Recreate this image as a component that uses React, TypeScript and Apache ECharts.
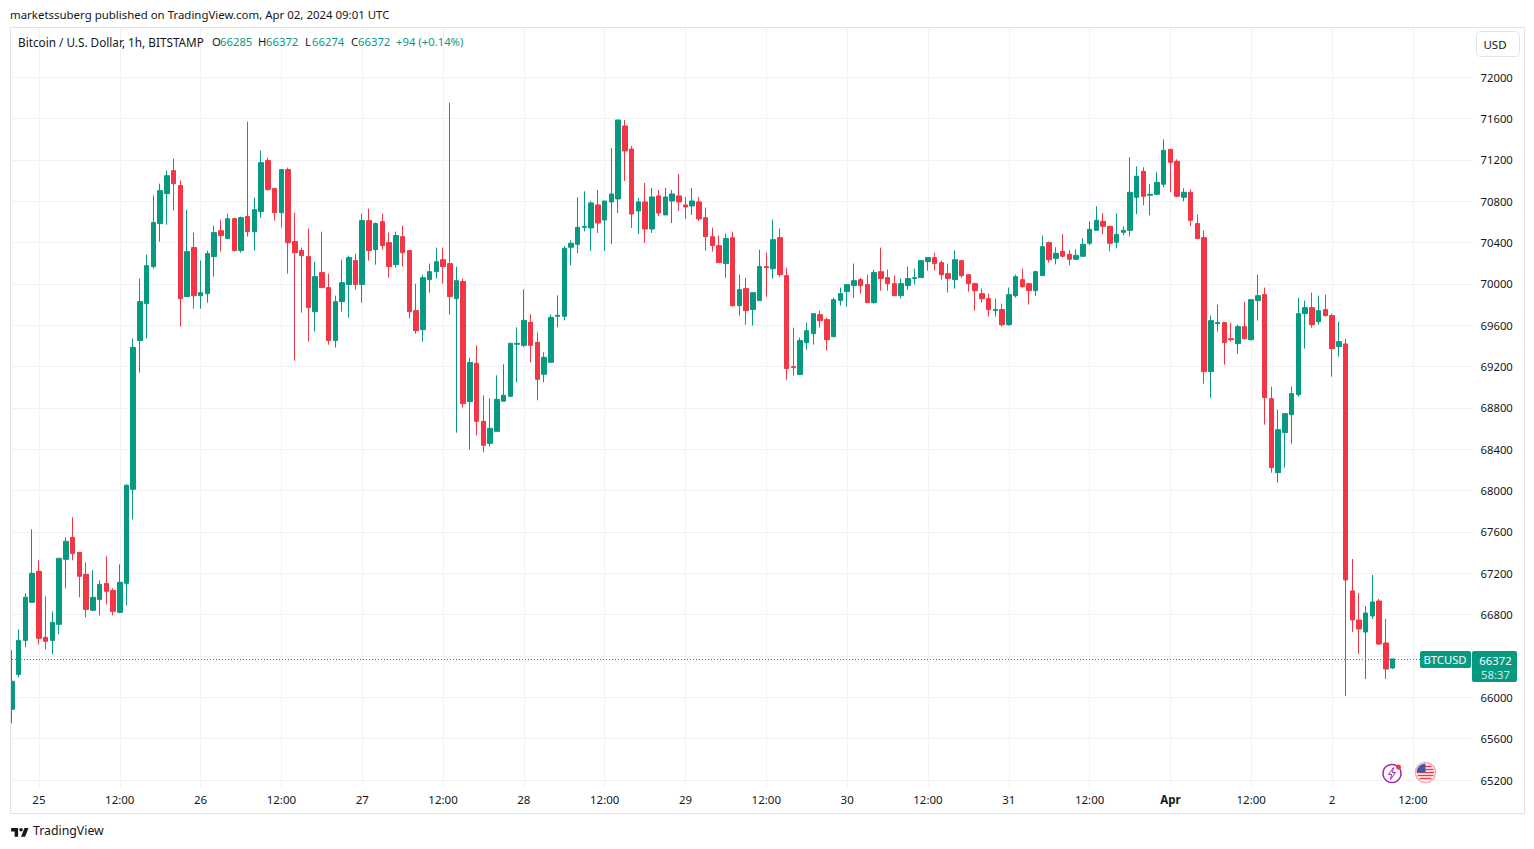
import React, { useEffect, useRef } from "react";
import * as echarts from "echarts";

const opens = [
  65884,66222,66551,66919,67219,66580,66551,66706,67335,67548,
  67403,67190,66842,66948,67103,67035,66822,67103,68013,69452,
  69810,70168,70584,70874,71097,70952,69877,70352,69887,69906,
  70265,70516,70439,70632,70323,70652,70506,70700,71194,70923,
  70690,71107,70410,70323,70265,69732,70110,69965,69452,69829,
  69994,70226,69994,70613,70332,70603,70400,70187,70458,70323,
  69742,69558,70042,70119,70235,70197,69858,70023,68861,69232,
  68671,68458,68574,68865,68913,69416,69406,69629,69435,69126,
  69242,69687,69687,70355,70384,70548,70542,70765,70619,70794,
  70823,71529,71306,70706,70794,70532,70852,70668,70803,70852,
  70765,70755,70794,70642,70458,70371,70197,70448,69790,69955,
  69752,69839,70168,70148,70448,70081,69200,69123,69432,69519,
  69703,69655,69490,69839,69926,69984,70042,69994,69819,70119,
  70061,70003,69887,69984,70052,70061,70216,70255,70206,70100,
  70042,70226,70090,70003,69906,69858,69742,69752,69606,69887,
  70042,70003,69935,70081,70400,70248,70316,70287,70239,70268,
  70394,70519,70606,70558,70403,70500,70519,70839,71090,70858,
  70868,70965,71303,71187,70839,70887,70584,70448,69152,69616,
  69626,69471,69423,69587,69461,69839,69897,68890,68174,68561,
  68735,68929,69713,69771,69635,69752,69694,69394,69420,67029,
  66748,66632,66787,66932,66526,66285,
];
const closes = [
  66155,66551,66968,67200,66571,66542,66726,67345,67510,67393,
  67171,66851,66968,67093,67026,66832,67113,68052,69387,69829,
  70177,70594,70903,71048,70971,69858,70313,69887,69916,70294,
  70497,70468,70632,70323,70642,70506,70719,71174,70913,70690,
  71107,70400,70303,70274,69771,70071,69965,69452,69829,70013,
  70255,69994,70613,70323,70584,70371,70168,70468,70303,69732,
  69548,70061,70119,70216,70168,69877,70032,68842,69239,68671,
  68439,68603,68884,68923,69426,69426,69648,69406,69077,69290,
  69677,69697,70345,70394,70548,70558,70784,70590,70803,70871,
  71587,71287,70677,70794,70532,70842,70687,70842,70871,70794,
  70745,70803,70629,70458,70371,70206,70439,69790,69945,69742,
  69916,70168,70158,70429,70090,69181,69190,69452,69548,69713,
  69645,69461,69848,69906,69994,70032,69984,69819,70110,70052,
  70003,69887,70003,70052,70061,70226,70255,70197,70090,70052,
  70235,70081,70003,69935,69858,69752,69752,69606,69897,70071,
  69974,69935,70119,70361,70235,70297,70268,70239,70277,70384,
  70529,70616,70558,70394,70481,70519,70887,71042,70848,70868,
  70984,71294,71177,70848,70887,70616,70439,69152,69645,69626,
  69432,69461,69587,69471,69848,69887,68900,68222,68590,68745,
  68939,69713,69771,69606,69742,69694,69374,69442,67136,66748,
  66661,66816,66923,66516,66274,66372,
];
const highs = [
  66455,66658,67006,67626,67326,66977,66832,67345,67548,67742,
  67403,67306,67229,67132,67364,67055,67287,68062,69471,70052,
  70284,70855,70971,71097,71213,71000,70719,70497,70226,70323,
  70565,70623,70681,70642,70652,71571,70836,71290,71223,70932,
  71107,71126,70690,70352,70536,70216,70506,70100,69887,70235,
  70274,70294,70681,70729,70594,70681,70497,70506,70565,70323,
  70003,70090,70197,70352,70352,71755,70168,70052,69287,69406,
  68923,68894,69116,69223,69426,69581,69948,69706,69532,69339,
  69706,69890,70365,70423,70839,70897,70803,70910,70803,71316,
  71587,71587,71336,70832,70977,70929,70910,70929,70910,71065,
  70842,70929,70842,70739,70545,70468,70487,70506,70090,70061,
  69916,70332,70303,70623,70536,70158,69577,69481,69626,69713,
  69742,69674,69868,69965,69994,70197,70061,70090,70139,70352,
  70139,70081,70052,70168,70148,70226,70255,70303,70226,70197,
  70323,70226,70090,70013,69955,69906,69858,69810,69965,70090,
  70148,70013,70129,70468,70410,70355,70481,70326,70335,70442,
  70606,70752,70684,70558,70684,70558,71226,71139,71129,70965,
  71081,71400,71303,71206,70926,70916,70671,70516,69694,69800,
  69626,69626,69606,69829,69848,70090,69965,69006,68784,68745,
  69006,69868,69839,69916,69887,69897,69713,69635,69468,67339,
  67010,66884,67184,66952,66758,66372,
];
const lows = [
  65748,66193,66484,66919,66513,66464,66416,66610,67055,67326,
  66968,66774,66842,66793,66900,66793,66813,66890,67723,69142,
  69471,70148,70410,70574,70710,69587,69877,69761,69761,69819,
  70071,70313,70439,70313,70303,70458,70323,70642,70903,70613,
  70545,70100,69258,69723,69442,69539,69965,69413,69384,69732,
  69674,69945,69819,70226,70187,70332,70061,70158,70168,69665,
  69519,69442,69916,70052,70003,69703,68561,68803,68397,68535,
  68371,68429,68574,68865,68903,69048,69387,69242,68874,69048,
  69242,69581,69648,70181,70297,70510,70319,70494,70319,70387,
  70687,70997,70542,70484,70397,70494,70658,70668,70590,70706,
  70629,70668,70610,70323,70313,70206,70061,69781,69694,69606,
  69597,69839,69877,70052,70071,69074,69113,69123,69364,69413,
  69577,69355,69490,69790,69781,69868,69906,69819,69810,69935,
  69935,69887,69858,69945,69994,70061,70129,70129,70042,69916,
  69955,70061,69926,69742,69819,69684,69684,69587,69597,69868,
  69965,69800,69887,70081,70206,70190,70258,70181,70229,70268,
  70374,70519,70481,70316,70345,70471,70461,70674,70761,70665,
  70868,70936,70887,70839,70800,70558,70439,69035,68900,69539,
  69219,69442,69326,69461,69452,69645,68639,68174,68077,68222,
  68455,68910,69374,69577,69606,69684,69103,69297,66013,66632,
  66419,66177,66758,66506,66177,66274,
];

const dayLabels = ["25", "26", "27", "28", "29", "30", "31", "Apr", "2"];
const futureBars = 12;
const firstDayIndex = 4;
const hoursPerDay = 24;
const lastPrice = 66372;
const hiddenPriceLabels = [66400];
const gridPriceCount = 18;

const UP = "#089981";
const DOWN = "#F23645";
const GRID = "#F1F2F5";
const BORDER = "#E0E3EB";
const TEXT = "#131722";
const FONT = '"Noto Sans", sans-serif';

const categories: string[] = [];
for (let i = 0; i < opens.length + futureBars; i++) {
  const h = i - firstDayIndex;
  const inDay = ((h % hoursPerDay) + hoursPerDay) % hoursPerDay;
  if (h >= 0 && inDay === 0) categories.push(dayLabels[h / hoursPerDay] ?? "");
  else if (h >= 0 && inDay === 12) categories.push("12:00");
  else categories.push("");
}
const candles = opens.map((o, i) => [o, closes[i], lows[i], highs[i]]);
const isMajor = (i: number) => i >= firstDayIndex && (i - firstDayIndex) % 12 === 0;

const txt = (text: string, x: number, y: number, fill = TEXT, size = 11.3, align = "left", weight = "normal") => ({
  type: "text",
  z: 20,
  silent: true,
  style: { text, x, y, fill, font: `${weight} ${size}px ${FONT}`, textAlign: align, textVerticalAlign: "middle" },
});

export default function App() {
  const ref = useRef<HTMLDivElement>(null);
  useEffect(() => {
    document.body.style.margin = "0";
    document.body.style.background = "#ffffff";
    echarts.graphic.registerShape(
      "tvlogo",
      echarts.graphic.extendPath(
        "M14 6H2v6h6v9h6V6Zm12 15h-7l6-15h7l-6 15Zm-7-9a3 3 0 1 0 0-6 3 3 0 0 0 0 6Z",
        {}
      )
    );
    const chart = echarts.init(ref.current!, undefined, { renderer: "svg" });
    const left = 12;
    const bar = 6.735;
    const lineColors: string[] = [];
    for (let i = 0; i < gridPriceCount; i++) lineColors.push(GRID);
    lineColors.push("transparent", "transparent");
    chart.setOption({
      animation: false,
      backgroundColor: "#ffffff",
      grid: { left, top: 28, width: bar * (categories.length - 1), height: 752, containLabel: false },
      xAxis: {
        type: "category",
        data: categories,
        boundaryGap: false,
        axisLine: { show: false },
        axisTick: {
          show: true,
          length: 7,
          alignWithLabel: true,
          interval: (i: number) => isMajor(i),
          lineStyle: { color: GRID, width: 1 },
        },
        axisLabel: {
          interval: (i: number) => isMajor(i),
          margin: 13,
          color: TEXT,
          fontFamily: FONT,
          fontSize: 11.5,
          formatter: (v: string) => (v === "Apr" ? "{b|Apr}" : v),
          rich: { b: { fontWeight: "bold", fontSize: 11.5, fontFamily: FONT, color: TEXT } },
        },
        splitLine: { show: true, interval: (i: number) => isMajor(i), lineStyle: { color: GRID, width: 1 } },
      },
      yAxis: {
        type: "value",
        position: "right",
        min: 65200,
        max: 72477,
        interval: 400,
        axisLine: { show: false },
        axisTick: { show: false },
        axisLabel: {
          margin: 7,
          color: TEXT,
          fontFamily: FONT,
          fontSize: 11.3,
          padding: [1, 0, 0, 0],
          formatter: (v: number) => (v > 72000 || hiddenPriceLabels.includes(v) ? "" : String(v)),
        },
        splitLine: { show: true, showMaxLine: false, lineStyle: { color: lineColors, width: 1 } },
      },
      series: [
        {
          type: "candlestick",
          data: candles,
          barWidth: 5,
          clip: false,
          itemStyle: { color: UP, color0: DOWN, borderColor: UP, borderColor0: DOWN, borderWidth: 1 },
          markLine: {
            silent: true,
            symbol: "none",
            animation: false,
            label: { show: false },
            lineStyle: { color: UP, type: [1, 2], width: 1 },
            data: [{ yAxis: lastPrice }],
          },
        },
      ],
      graphic: [
        { type: "rect", z: 10, silent: true, shape: { x: 0, y: 0, width: 10, height: 849 }, style: { fill: "#fff" } },
        {
          type: "rect",
          z: 11,
          silent: true,
          shape: { x: 10.5, y: 27.5, width: 1514, height: 786 },
          style: { fill: "none", stroke: BORDER, lineWidth: 1 },
        },
        txt("marketssuberg published on TradingView.com, Apr 02, 2024 09:01 UTC", 10, 14.5, TEXT, 11.45),
        txt("Bitcoin / U.S. Dollar, 1h, BITSTAMP", 18, 41.5, TEXT, 11.75),
        txt("O", 212, 41.5),
        txt("66285", 220, 41.5, UP),
        txt("H", 258, 41.5),
        txt("66372", 266, 41.5, UP),
        txt("L", 305, 41.5),
        txt("66274", 312, 41.5, UP),
        txt("C", 351, 41.5),
        txt("66372", 358, 41.5, UP),
        txt("+94 (+0.14%)", 396, 41.5, UP),
        {
          type: "rect",
          z: 15,
          silent: true,
          shape: { x: 1476.5, y: 31.5, width: 43, height: 25, r: 4 },
          style: { fill: "#fff", stroke: BORDER, lineWidth: 1 },
        },
        txt("USD", 1495, 44, TEXT, 11.5, "center"),
        { type: "rect", z: 15, silent: true, shape: { x: 1420, y: 651, width: 51, height: 17, r: 2 }, style: { fill: UP } },
        txt("BTCUSD", 1445, 659.5, "#fff", 11.3, "center"),
        { type: "rect", z: 15, silent: true, shape: { x: 1472, y: 651, width: 45, height: 31, r: 2 }, style: { fill: UP } },
        txt("66372", 1495.5, 660.5, "#fff", 11.3, "center"),
        txt("58:37", 1495.5, 674.5, "#CFEDE7", 11.3, "center"),
        {
          type: "circle",
          z: 15,
          silent: true,
          shape: { cx: 1392, cy: 773.5, r: 9 },
          style: { fill: "#fff", stroke: "#9C27B0", lineWidth: 1.5 },
        },
        {
          type: "polygon",
          z: 16,
          silent: true,
          shape: { points: [[1393.5, 767.5], [1388.5, 774.5], [1391.5, 774.5], [1390.5, 779.5], [1395.5, 772.5], [1392.5, 772.5]] },
          style: { fill: "none", stroke: "#9C27B0", lineWidth: 1 },
        },
        { type: "circle", z: 17, silent: true, shape: { cx: 1398.5, cy: 767, r: 2.5 }, style: { fill: DOWN } },
        {
          type: "circle",
          z: 15,
          silent: true,
          shape: { cx: 1425.5, cy: 772.5, r: 10 },
          style: { fill: "#fff", stroke: "#F7A8B0", lineWidth: 1.5 },
        },
        ...[-6, -3, 0, 3, 6].map((d) => ({
          type: "line",
          z: 16,
          silent: true,
          shape: { x1: 1425.5 - Math.sqrt(72 - d * d), y1: 772.5 + d, x2: 1425.5 + Math.sqrt(72 - d * d), y2: 772.5 + d },
          style: { stroke: DOWN, lineWidth: 1.5 },
        })),
        { type: "sector", z: 17, silent: true, shape: { cx: 1425.5, cy: 772.5, r: 9, r0: 0, startAngle: Math.PI, endAngle: Math.PI * 1.5 }, style: { fill: "#3B5BA9" } },
        { type: "tvlogo", z: 20, silent: true, x: 10, y: 824.5, scaleX: 0.58, scaleY: 0.58, style: { fill: TEXT } },
        txt("TradingView", 33, 830.5, TEXT, 12.3),
      ],
    });
    return () => chart.dispose();
  }, []);
  return <div ref={ref} style={{ width: 1534, height: 849 }} />;
}
